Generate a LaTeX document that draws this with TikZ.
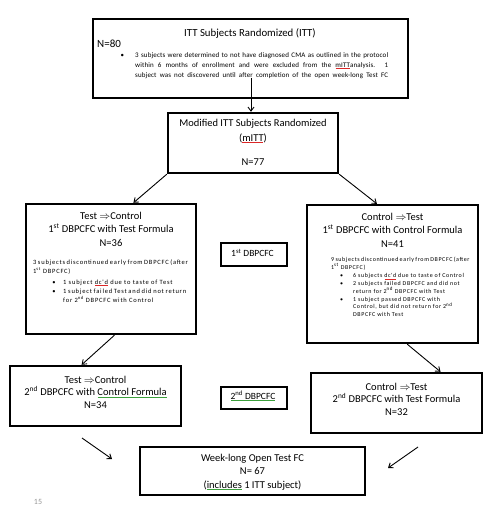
\documentclass[tikz,border=0pt]{standalone}
\usepackage{fontspec}
\setmainfont{Carlito}
\newfontfamily\sptA[LetterSpace=2]{Carlito}
\newfontfamily\sptB[LetterSpace=12]{Carlito}
\newfontfamily\sptC[LetterSpace=10]{Carlito}
\usetikzlibrary{arrows.meta,calc}
\definecolor{sqred}{RGB}{220,40,40}
\definecolor{sqgreen}{RGB}{60,160,60}
\definecolor{pgnum}{RGB}{150,150,150}
\newcommand\squig[2]{\leavevmode\setbox0\hbox{#2}\rlap{\copy0}\raisebox{-1.4pt}{\textcolor{#1}{\leaders\hbox to 1pt{\hss\rule{0.6pt}{0.45pt}\hss}\hskip\wd0}}}
\newcommand\sups[1]{\textsuperscript{#1}}
\newcommand\bitem[1]{\par\noindent\llap{\textbullet\hspace{#1}}}
\newcommand\fullline[1]{\makebox[253pt][s]{#1}}
\tikzset{
  mainbox/.style 2 args={draw, line width=2.4pt, minimum width=#1, minimum height=#2, inner sep=0},
  thinbox/.style 2 args={draw, line width=1.1pt, minimum width=#1, minimum height=#2, inner sep=0},
  ttl/.style={font=\fontsize{10.5}{13.5}\selectfont, align=center, inner sep=0},
  small/.style={inner sep=0, text width=#1, align=justify, anchor=north west},
  conn/.style={-{Straight Barb[length=4pt,width=6pt]}, line width=0.9pt},
}
\begin{document}
\begin{tikzpicture}[x=1pt,y=-1pt]
\useasboundingbox (0,0) rectangle (492,519);
% boxes
\node[mainbox={315pt}{79pt}] (itt) at (250.5,58.5) {};
\node[mainbox={170pt}{60pt}] (mitt) at (253,143) {};
\node[mainbox={170pt}{130pt}] (l1) at (111,269) {};
\node[mainbox={171pt}{138pt}] (r1) at (392.5,274) {};
\node[thinbox={66pt}{23pt}] (m1) at (254,254.5) {};
\node[mainbox={171pt}{60pt}] (l2) at (95.5,396) {};
\node[thinbox={66pt}{22pt}] (m2) at (254,398) {};
\node[mainbox={171pt}{60pt}] (r2) at (396.5,403) {};
\node[mainbox={225pt}{48pt}] (fin) at (252.5,471) {};
% ITT box text
\node[ttl, font=\fontsize{10.8}{13.5}\selectfont] (ittt) at (250,33) {ITT Subjects Randomized (ITT)};
\node[font=\fontsize{11}{13}\selectfont, anchor=west, inner sep=0] (n80) at (97,44) {N=80};
\node[font=\sptA\fontsize{7}{10}\selectfont, align=left, inner sep=0, anchor=north west] (ittp) at (135,52) {\llap{\textbullet\hspace{11pt}}\fullline{3 subjects were determined to not have diagnosed CMA as outlined in the protocol}\\\fullline{within 6 months of enrollment and were excluded from the \squig{sqred}{mITT}analysis. 1}\\\fullline{subject was not discovered until after completion of the open week-long Test FC}};
% mITT box text
\node[ttl] (mitt1) at (253,124) {Modified ITT Subjects Randomized};
\node[ttl] (mitt2) at (253,138) {(\squig{sqred}{mITT})};
\node[ttl] (mitt3) at (253,162) {N=77};
% left first box
\node[ttl] (l1t) at (111,229) {Test $\Rightarrow$Control\\1\sups{st} DBPCFC with Test Formula\\N=36};
\node[small=153pt, font=\sptB\fontsize{6.5}{9}\selectfont] (l1s) at (33,259.5) {3 subjects discontinued early from DBPCFC (after\linebreak 1\sups{st} DBPCFC)\par\vspace{2pt}\leftskip=30pt
\bitem{7.5pt}1 subject \squig{sqred}{dc'd} due to taste of Test
\bitem{7.5pt}1 subject failed Test and did not return\newline for 2\sups{nd} DBPCFC with Control\par};
% right first box
\node[ttl] (r1t) at (392.5,230) {Control $\Rightarrow$Test\\1\sups{st} DBPCFC with Control Formula\\N=41};
\node[small=137pt, font=\sptC\fontsize{6}{7.7}\selectfont] (r1s) at (331,257) {9 subjects discontinued early from DBPCFC (after\linebreak 1\sups{st} DBPCFC)\par\vspace{1pt}\leftskip=22pt
\bitem{10pt}6 subjects \squig{sqred}{dc'd} due to taste of Control
\bitem{10pt}2 subjects failed DBPCFC and did not\newline return for 2\sups{nd} DBPCFC with Test
\bitem{10pt}1 subject passed DBPCFC with\newline Control, but did not return for 2\sups{nd}\newline DBPCFC with Test\par};
% middle labels
\node[font=\fontsize{9.5}{11}\selectfont, inner sep=0] (m1t) at (252.5,253) {1\sups{st} DBPCFC};
\node[font=\fontsize{9.5}{11}\selectfont, inner sep=0] (m2t) at (253,396) {\squig{sqgreen}{2\sups{nd} DBPCFC}};
% second boxes
\node[ttl, font=\fontsize{10.5}{12.5}\selectfont] (l2t) at (95.5,392) {Test $\Rightarrow$Control\\2\sups{nd} DBPCFC with \squig{sqgreen}{Control Formula}\\N=34};
\node[ttl, font=\fontsize{10.5}{12.5}\selectfont] (r2t) at (396.5,399) {Control $\Rightarrow$Test\\2\sups{nd} DBPCFC with Test Formula\\N=32};
\node[ttl] (fint) at (252.5,472) {Week-long Open Test FC\\N= 67\\(\squig{sqgreen}{includes} 1 ITT subject)};
\node[font=\fontsize{8}{9}\selectfont, text=pgnum, inner sep=0] (pg) at (38,502) {15};
% connectors
\coordinate (s1) at (251,78);
\draw[conn] (s1) -- (s1 |- mitt.north);
\draw[conn] (mitt.south west) -- ($(l1.north west)!0.63!(l1.north east)$);
\draw[conn] (mitt.south east) -- ($(r1.north west)!0.41!(r1.north east)$);
\draw[conn] ($(l1.south west)!0.52!(l1.south east)$) -- ($(l2.north west)!0.42!(l2.north east)$);
\draw[conn] ($(r1.south west)!0.585!(r1.south east)$) -- ($(r2.north west)!0.754!(r2.north east)$);
\coordinate (f1) at (82,438);
\coordinate (f2) at (112,459);
\coordinate (g1) at (418,447);
\coordinate (g2) at (388,468);
\draw[conn] (f1) -- (f2);
\draw[conn] (g1) -- (g2);
\end{tikzpicture}
\end{document}
